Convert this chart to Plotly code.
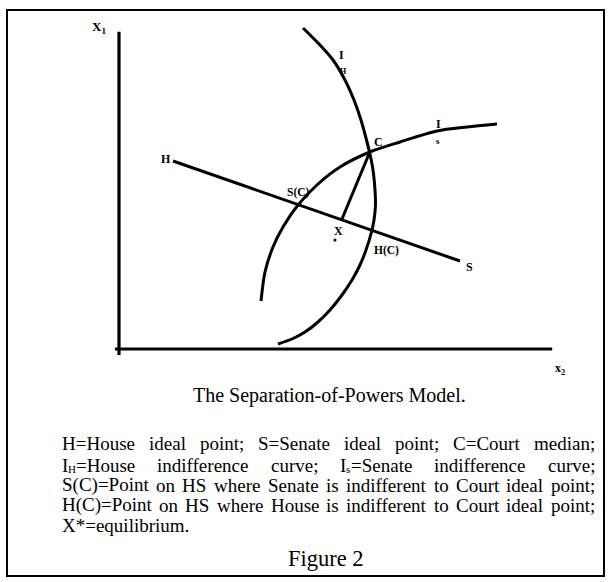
import plotly.graph_objects as go

# ---------------- data (model units: x2 horizontal, x1 vertical) ----------------
axis_x1_x2 = [0.0, 0.0]
axis_x1_x1 = [-0.15, 7.93]
axis_x2_x2 = [-0.10, 10.83]
axis_x2_x1 = [0.0, 0.0]

house_ideal = [1.35, 4.70]
senate_ideal = [8.525, 2.20]
court_median = [6.27, 4.925]
equilibrium_foot = [5.575, 3.25]
equilibrium_dot = [5.40, 2.725]

# House indifference curve I_H
ih_x2 = [4.600, 5.025, 5.350, 5.650, 5.875, 6.050, 6.1875, 6.2625, 6.350, 6.400, 6.4125,
         6.375, 6.3125, 6.175, 6.025, 5.825, 5.575, 5.275, 4.975, 4.650, 4.325, 3.975]
ih_x1 = [8.025, 7.600, 7.225, 6.725, 6.225, 5.725, 5.225, 4.925, 4.475, 3.975, 3.600,
         3.225, 2.925, 2.475, 2.100, 1.725, 1.350, 0.975, 0.675, 0.425, 0.250, 0.125]

# Senate indifference curve I_S
is_x2 = [9.45, 8.70, 7.95, 7.025, 6.27, 5.525, 4.975, 4.475, 4.10, 3.85, 3.65, 3.55]
is_x1 = [5.625, 5.55, 5.45, 5.175, 4.925, 4.55, 4.125, 3.60, 3.05, 2.55, 1.925, 1.20]

# point labels: (text, x2, x1, size, bold)
point_labels = [
    ("H", 1.175, 4.75, 12, True),
    ("S", 8.75, 2.05, 12, True),
    ("C", 6.475, 5.175, 12, True),
    ("S(C)", 4.475, 3.925, 11.5, True),
    ("H(C)", 6.675, 2.475, 11.5, True),
    ("X", 5.475, 2.95, 12, True),
    ("I", 5.55, 7.35, 12, True),
    ("H", 5.60, 6.95, 8, True),
    ("I", 7.975, 5.625, 12, True),
    ("s", 7.975, 5.20, 9, True),
    ("X<sub>1</sub>", -0.50, 8.05, 13, True),
    ("x<sub>2</sub>", 11.025, -0.50, 12, True),
]

caption = "The Separation-of-Powers Model."
# words as plain strings or (main, subscript, rest) pieces
legend_lines = [
    ["H=House", "ideal", "point;", "S=Senate", "ideal", "point;", "C=Court", "median;"],
    [("I", "H", "=House"), "indifference", "curve;", ("I", "s", "=Senate"), "indifference", "curve;"],
    "S(C)=Point on HS where Senate is indifferent to Court ideal point;".split(),
    "H(C)=Point on HS where House is indifferent to Court ideal point;".split(),
]
legend_last = "X*=equilibrium."
figure_label = "Figure 2"

# ---------------- layout helpers ----------------
PW, PH = 611, 582
SERIF = "Liberation Serif, Times New Roman, serif"

TIMES = {' ': 250, '(': 333, ')': 333, '*': 500, '.': 250, ';': 278, '=': 564, '-': 333,
         'A': 722, 'B': 667, 'C': 667, 'D': 722, 'E': 611, 'F': 556, 'G': 722, 'H': 722, 'I': 333,
         'J': 389, 'K': 722, 'L': 611, 'M': 889, 'N': 722, 'O': 722, 'P': 556, 'Q': 722, 'R': 667,
         'S': 556, 'T': 611, 'U': 722, 'V': 722, 'W': 944, 'X': 722, 'Y': 722, 'Z': 611,
         'a': 444, 'b': 500, 'c': 444, 'd': 500, 'e': 444, 'f': 333, 'g': 500, 'h': 500, 'i': 278,
         'j': 278, 'k': 500, 'l': 278, 'm': 778, 'n': 500, 'o': 500, 'p': 500, 'q': 500, 'r': 333,
         's': 389, 't': 278, 'u': 500, 'v': 500, 'w': 722, 'x': 500, 'y': 500, 'z': 444}

TXT = 19
SUB = 11


def str_width(s, size):
    return sum(TIMES.get(c, 500) for c in s) * size / 1000.0


def word_width(w):
    if isinstance(w, tuple):
        return str_width(w[0], TXT) + str_width(w[1], SUB) + str_width(w[2], TXT)
    return str_width(w, TXT)


def px(x):
    return x / PW


def py(y):
    return 1 - y / PH


fig = go.Figure()

LW = 3
line_style = dict(color="black", width=LW)
fig.add_trace(go.Scatter(x=axis_x1_x2, y=axis_x1_x1, mode="lines", line=dict(color="black", width=3.2)))
fig.add_trace(go.Scatter(x=axis_x2_x2, y=axis_x2_x1, mode="lines", line=dict(color="black", width=3.2)))
fig.add_trace(go.Scatter(x=[house_ideal[0], senate_ideal[0]], y=[house_ideal[1], senate_ideal[1]],
                         mode="lines", line=line_style))
fig.add_trace(go.Scatter(x=[court_median[0], equilibrium_foot[0]], y=[court_median[1], equilibrium_foot[1]],
                         mode="lines", line=line_style))
fig.add_trace(go.Scatter(x=ih_x2, y=ih_x1, mode="lines",
                         line=dict(color="black", width=LW, shape="spline", smoothing=0.6)))
fig.add_trace(go.Scatter(x=is_x2, y=is_x1, mode="lines",
                         line=dict(color="black", width=LW, shape="spline", smoothing=0.8)))
fig.add_trace(go.Scatter(x=[equilibrium_dot[0]], y=[equilibrium_dot[1]], mode="markers",
                         marker=dict(color="black", size=3)))

ann = []
for text, x, y, size, bold in point_labels:
    ann.append(dict(text=text, x=x, y=y, xref="x", yref="y", showarrow=False,
                    font=dict(family=SERIF, size=size, color="black",
                              weight="bold" if bold else "normal")))

ann.append(dict(text=caption, x=px(329), y=py(395), xref="paper", yref="paper", showarrow=False,
                xanchor="center", yanchor="middle", font=dict(family=SERIF, size=20, color="black")))


def put(text, x, y, size):
    ann.append(dict(text=text, x=px(x), y=py(y), xref="paper", yref="paper", showarrow=False,
                    xanchor="left", yanchor="middle", borderpad=0,
                    font=dict(family=SERIF, size=size, color="black")))


XL, XR = 61, 594
line_y = [443, 465, 485, 505]
for words, yy in zip(legend_lines, line_y):
    widths = [word_width(w) for w in words]
    gap = (XR - XL - sum(widths)) / (len(words) - 1)
    xx = XL
    for w, wd in zip(words, widths):
        if isinstance(w, tuple):
            put(w[0], xx, yy, TXT)
            x_sub = xx + str_width(w[0], TXT)
            put(w[1], x_sub, yy + 4, SUB)
            put(w[2], x_sub + str_width(w[1], SUB), yy, TXT)
        else:
            put(w, xx, yy, TXT)
        xx += wd + gap
put(legend_last, XL, 525, TXT)
ann.append(dict(text=figure_label, x=px(326), y=py(558), xref="paper", yref="paper", showarrow=False,
                xanchor="center", yanchor="middle", font=dict(family=SERIF, size=22.5, color="black")))

fig.update_layout(
    width=PW, height=PH, margin=dict(l=0, r=0, t=0, b=0),
    paper_bgcolor="white", plot_bgcolor="white", showlegend=False,
    xaxis=dict(range=[-2.975, 12.3], visible=False, fixedrange=True),
    yaxis=dict(range=[-5.825, 8.725], visible=False, fixedrange=True),
    annotations=ann,
    shapes=[dict(type="rect", xref="paper", yref="paper", x0=px(7), x1=px(604), y0=py(576), y1=py(10),
                 line=dict(color="black", width=2))],
)

fig.write_html("out.html", config={"displayModeBar": False, "staticPlot": True},
               post_script="document.body.style.margin='0';")
